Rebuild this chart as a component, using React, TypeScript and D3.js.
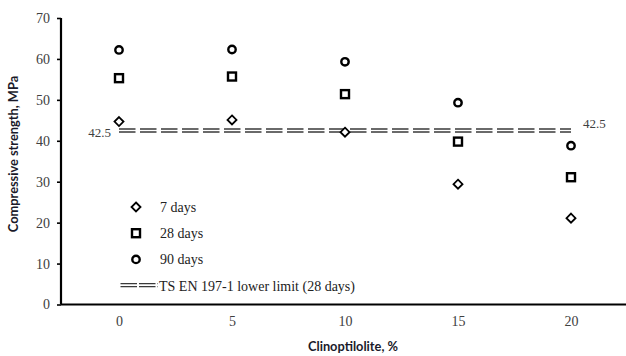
import { useEffect, useRef } from "react";
import * as d3 from "d3";

const categories = ["0", "5", "10", "15", "20"];
const days7 = [44.7, 45.1, 42.1, 29.4, 21.1];
const days28 = [55.3, 55.7, 51.4, 39.8, 31.1];
const days90 = [62.2, 62.3, 59.3, 49.3, 38.8];
const limitValue = 42.5;
const yTicks = [0, 10, 20, 30, 40, 50, 60, 70];
const legendLabels = ["7 days", "28 days", "90 days", "TS EN 197-1 lower limit (28 days)"];

const W = 626;
const H = 356;
const serif = "'Liberation Serif', 'Times New Roman', serif";
const sans = "Lato, 'Open Sans', sans-serif";

export default function App() {
  const ref = useRef<SVGSVGElement>(null);

  useEffect(() => {
    if (!ref.current) return;
    const svg = d3.select(ref.current);
    svg.selectAll("*").remove();

    const m = { l: 61, r: 0, t: 18, b: 304.5 };
    const x = d3.scalePoint<string>().domain(categories).range([119, 571]);
    const y = d3.scaleLinear().domain([0, 70]).range([m.b, m.t]);

    // y axis
    const ya = svg.append("g")
      .attr("transform", `translate(${m.l},0)`)
      .call(d3.axisLeft(y).tickValues(yTicks).tickSize(4).tickPadding(7).tickFormat((d) => String(d)));
    ya.select(".domain").attr("stroke", "#000").attr("stroke-width", 2.2).attr("d", `M0,${m.t}V${m.b}`);
    ya.selectAll(".tick line").attr("stroke", "#000").attr("stroke-width", 1.6);
    ya.selectAll("text").attr("font-family", serif).attr("font-size", 14).attr("fill", "#404040");

    // x axis
    const xa = svg.append("g")
      .attr("transform", `translate(0,${m.b})`)
      .call(d3.axisBottom(x).tickSize(0).tickPadding(12));
    xa.select(".domain").attr("stroke", "#000").attr("stroke-width", 2.2).attr("d", `M${m.l},0H${W}`);
    xa.selectAll("text").attr("font-family", serif).attr("font-size", 14).attr("fill", "#404040");

    // titles
    svg.append("text")
      .attr("x", 353).attr("y", 351)
      .attr("text-anchor", "middle")
      .attr("font-family", sans).attr("font-weight", "bold").attr("font-size", 12.8)
      .attr("fill", "#1a1a2a")
      .text("Clinoptilolite, %");
    svg.append("text")
      .attr("transform", `translate(18,154) rotate(-90)`)
      .attr("text-anchor", "middle")
      .attr("font-family", sans).attr("font-weight", "bold").attr("font-size", 12.8)
      .attr("fill", "#1a1a2a")
      .text("Compressive strength, MPa");

    // limit line (double dashed)
    const ly = y(limitValue);
    [-1.5, 1.5].forEach((o) => {
      svg.append("line")
        .attr("x1", x(categories[0])!).attr("x2", x(categories[categories.length - 1])!)
        .attr("y1", ly + o).attr("y2", ly + o)
        .attr("stroke", "#3a3a3a").attr("stroke-width", 1.4)
        .attr("stroke-dasharray", "16.5,4.5");
    });
    svg.append("text")
      .attr("x", 111).attr("y", ly + 6)
      .attr("text-anchor", "end")
      .attr("font-family", serif).attr("font-size", 13).attr("fill", "#404040")
      .text(String(limitValue));
    svg.append("text")
      .attr("x", 583).attr("y", ly - 2.5)
      .attr("font-family", serif).attr("font-size", 13).attr("fill", "#404040")
      .text(String(limitValue));

    const diamond = (g: d3.Selection<SVGGElement, unknown, null, undefined>, cx: number, cy: number) =>
      g.append("path")
        .attr("d", `M${cx},${cy - 4.5}L${cx + 4.5},${cy}L${cx},${cy + 4.5}L${cx - 4.5},${cy}Z`)
        .attr("fill", "#fff").attr("stroke", "#000").attr("stroke-width", 1.8);
    const square = (g: d3.Selection<SVGGElement, unknown, null, undefined>, cx: number, cy: number) =>
      g.append("rect")
        .attr("x", cx - 4).attr("y", cy - 4).attr("width", 8).attr("height", 8)
        .attr("fill", "#fff").attr("stroke", "#000").attr("stroke-width", 2.4);
    const circle = (g: d3.Selection<SVGGElement, unknown, null, undefined>, cx: number, cy: number) =>
      g.append("circle")
        .attr("cx", cx).attr("cy", cy).attr("r", 3.7)
        .attr("fill", "#fff").attr("stroke", "#000").attr("stroke-width", 2.4);

    const marks = svg.append("g");
    categories.forEach((c, i) => {
      diamond(marks, x(c)!, y(days7[i]));
      square(marks, x(c)!, y(days28[i]));
      circle(marks, x(c)!, y(days90[i]));
    });

    // legend
    const lg = svg.append("g");
    const ly0 = 207;
    const step = 26.2;
    diamond(lg, 136, ly0);
    square(lg, 136, ly0 + step);
    circle(lg, 136, ly0 + step * 2);
    [-1.5, 1.5].forEach((o) => {
      lg.append("line")
        .attr("x1", 120.5).attr("x2", 158)
        .attr("y1", ly0 + step * 3 + o - 0.5).attr("y2", ly0 + step * 3 + o - 0.5)
        .attr("stroke", "#3a3a3a").attr("stroke-width", 1.4)
        .attr("stroke-dasharray", "16.5,2");
    });
    legendLabels.forEach((t, i) => {
      lg.append("text")
        .attr("x", i === 3 ? 159 : 160).attr("y", ly0 + step * i + 5)
        .attr("font-family", serif).attr("font-size", 14).attr("fill", "#222")
        .text(t);
    });
  }, []);

  return (
    <svg
      ref={ref}
      width={W}
      height={H}
      style={{ position: "fixed", left: 0, top: 0, background: "#fff" }}
    />
  );
}
